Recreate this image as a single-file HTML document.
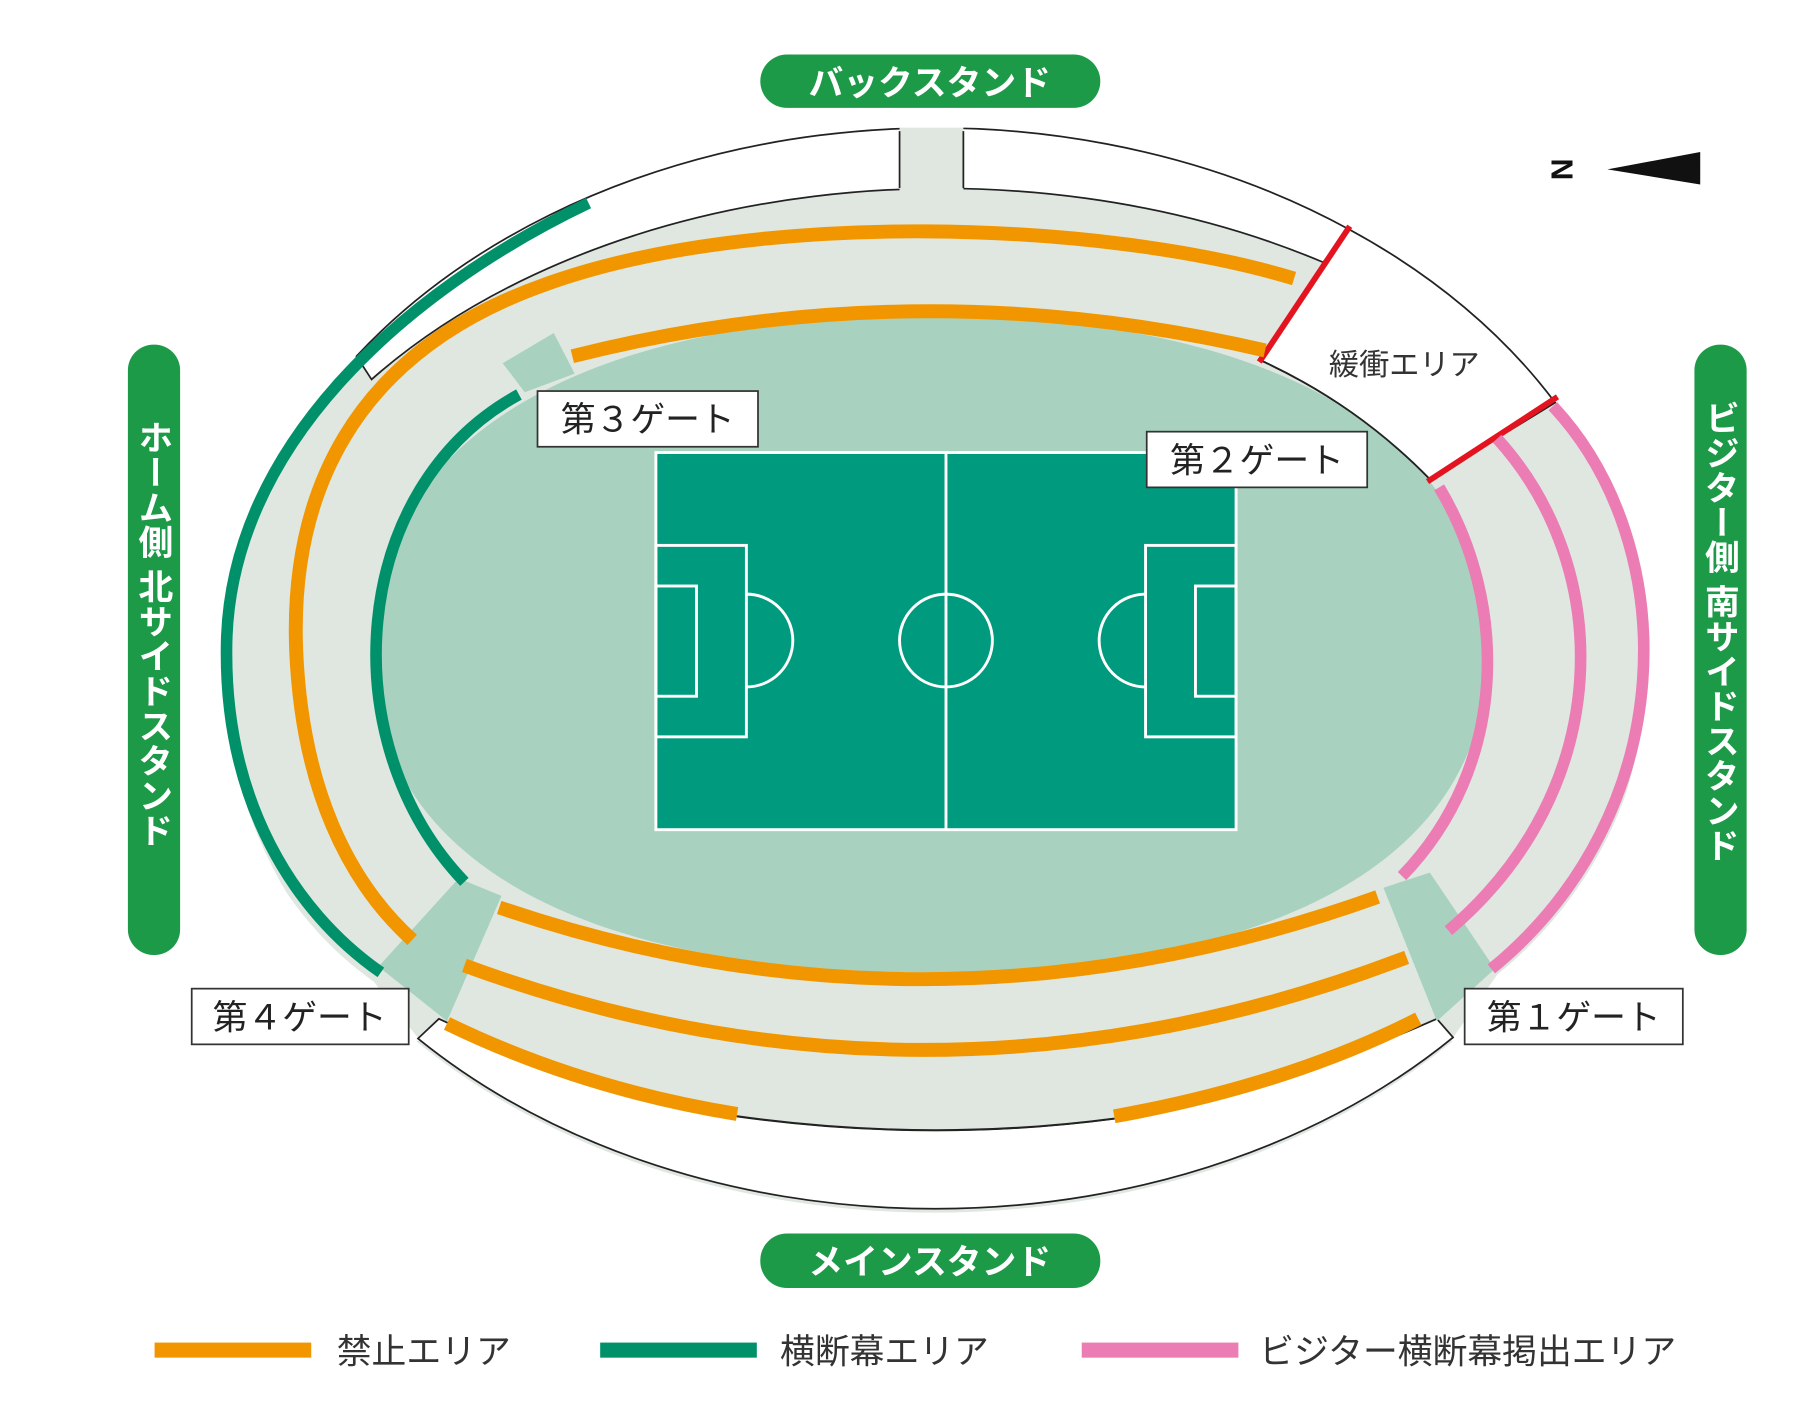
<!DOCTYPE html>
<html><head><meta charset="utf-8"><style>
html,body{margin:0;padding:0;background:#fff;}
svg{display:block;}
text{font-family:"Liberation Sans","Noto Sans CJK JP",sans-serif;}
</style></head><body>
<svg width="1820" height="1418" viewBox="0 0 1568 1222" xmlns="http://www.w3.org/2000/svg">
<ellipse cx="805" cy="578" rx="612" ry="467" fill="#dfe7e0"/>
<path d="M502,168 C345,243 185,380 185,560 C184,690 245,792 322,846 L362,897 L0,897 L0,168 Z" fill="#fff"/>
<path d="M1343,345 C1456,470 1456,705 1290,840 L1250,897 L1568,897 L1568,345 Z" fill="#fff"/>
<path d="M307,307 A612,467 0 0 1 1163,198 L1140,226 A620,420 0 0 0 320,327 Z" fill="#fff" stroke="#222" stroke-width="1.5"/>
<path d="M1163,198 A612,467 0 0 1 1340,347 L1232,413 C1190,370 1140,335 1085,310 Z" fill="#fff" stroke="#222" stroke-width="1.5"/>
<path d="M360,895 A612,467 0 0 0 1252,894 L1238,878 Q1110,935 960,964 Q800,985 635,962 Q500,935 378,878 Z" fill="#fff" stroke="#222" stroke-width="1.5"/>
<path d="M635,962 Q800,985 960,964 L960,950 L635,950 Z" fill="#dfe7e0"/>
<path d="M635,962 Q800,985 960,964" fill="none" stroke="#222" stroke-width="1.8"/>
<rect x="775" y="108" width="55" height="60" fill="#dfe7e0"/>
<rect x="760" y="100" width="85" height="10" fill="#fff"/>
<line x1="775" y1="113" x2="775" y2="162" stroke="#222" stroke-width="1.5"/>
<line x1="830" y1="113" x2="830" y2="162" stroke="#222" stroke-width="1.5"/>
<path d="M800,272 C1100,272 1282,380 1282,560 C1282,740 1100,838 800,838 C500,838 320,740 320,560 C320,380 500,272 800,272 Z" fill="#a8d2bf"/>
<path d="M1085,310 C1140,335 1190,370 1232,413" fill="none" stroke="#222" stroke-width="1.5"/>
<polygon points="433,313 477,287 495,322 452,338" fill="#a8d2bf"/>
<polygon points="395,757 432,772 385,880 326,833" fill="#a8d2bf"/>
<polygon points="1192,765 1232,752 1288,835 1238,880" fill="#a8d2bf"/>
<line x1="1163" y1="195" x2="1085" y2="312" stroke="#e3141f" stroke-width="5"/>
<line x1="1342" y1="342" x2="1230" y2="415" stroke="#e3141f" stroke-width="5"/>
<g fill="none" stroke="#f29600" stroke-width="12">
<path d="M493,307 Q790,232 1090,302"/>
<path d="M1115,240 C950,190 650,180 470,245 C300,305 250,430 255,560 C260,680 300,760 355,810"/>
<path d="M430,782 Q805,910 1187,773"/>
<path d="M400,832 Q805,981 1212,825"/>
<path d="M385,882 Q500,938 635,960"/>
<path d="M960,962 Q1110,935 1222,878"/>
</g>
<g fill="none" stroke="#00916a" stroke-width="10">
<path d="M507,175 C350,250 195,385 195,560 C194,690 252,785 328,838"/>
<path d="M447,340 C300,420 285,640 400,760"/>
</g>
<g fill="none" stroke="#eb7cb4" stroke-width="10">
<path d="M1338,350 C1450,470 1450,700 1285,835"/>
<path d="M1290,378 C1392,490 1392,680 1248,802"/>
<path d="M1240,420 C1300,520 1300,660 1208,755"/>
</g>
<rect x="565" y="390" width="500" height="325" fill="#009a7f" stroke="#fff" stroke-width="2.5"/>
<g fill="none" stroke="#fff" stroke-width="2.5">
<line x1="815" y1="390" x2="815" y2="715"/>
<circle cx="815" cy="552" r="40"/>
<rect x="565" y="470" width="78" height="165"/>
<rect x="565" y="505" width="35" height="95"/>
<path d="M643,512 A40,40 0 0 1 643,592"/>
<rect x="987" y="470" width="78" height="165"/>
<rect x="1030" y="505" width="35" height="95"/>
<path d="M987,512 A40,40 0 0 0 987,592"/>
</g>
<rect x="655" y="47" width="293" height="46" rx="23" fill="#1d9a48"/>
<text x="801" y="82" font-size="30" font-weight="bold" fill="#fff" text-anchor="middle">バックスタンド</text>
<rect x="655" y="1063" width="293" height="47" rx="23" fill="#1d9a48"/>
<text x="801" y="1098" font-size="30" font-weight="bold" fill="#fff" text-anchor="middle">メインスタンド</text>
<rect x="110" y="297" width="45" height="526" rx="22" fill="#1d9a48"/>
<text x="132" y="362" font-size="30" font-weight="bold" fill="#fff" style="writing-mode:vertical-rl">ホーム側 北サイドスタンド</text>
<rect x="1460" y="297" width="45" height="526" rx="22" fill="#1d9a48"/>
<text x="1482" y="345" font-size="30" font-weight="bold" fill="#fff" style="writing-mode:vertical-rl">ビジター側 南サイドスタンド</text>
<g font-size="30" fill="#222" text-anchor="middle">
<rect x="463" y="337" width="190" height="48" fill="#fff" stroke="#333" stroke-width="1.5"/>
<text x="558" y="372">第３ゲート</text>
<rect x="988" y="372" width="190" height="48" fill="#fff" stroke="#333" stroke-width="1.5"/>
<text x="1083" y="407">第２ゲート</text>
<rect x="165" y="852" width="187" height="48" fill="#fff" stroke="#333" stroke-width="1.5"/>
<text x="258" y="887">第４ゲート</text>
<rect x="1262" y="852" width="188" height="48" fill="#fff" stroke="#333" stroke-width="1.5"/>
<text x="1356" y="887">第１ゲート</text>
</g>
<text x="1210" y="323" font-size="26" fill="#333" text-anchor="middle">緩衝エリア</text>
<text x="0" y="0" font-size="26" font-weight="bold" fill="#111" text-anchor="middle" transform="translate(1337,146) rotate(90)">N</text>
<polygon points="1385,146 1465,131 1465,159" fill="#111"/>
<rect x="133" y="1157" width="135" height="13" fill="#f29600"/>
<text x="290" y="1175" font-size="30" fill="#333">禁止エリア</text>
<rect x="517" y="1157" width="135" height="13" fill="#00916a"/>
<text x="672" y="1175" font-size="30" fill="#333">横断幕エリア</text>
<rect x="932" y="1157" width="135" height="13" fill="#eb7cb4"/>
<text x="1085" y="1175" font-size="30" fill="#333">ビジター横断幕掲出エリア</text>
</svg>
</body></html>
